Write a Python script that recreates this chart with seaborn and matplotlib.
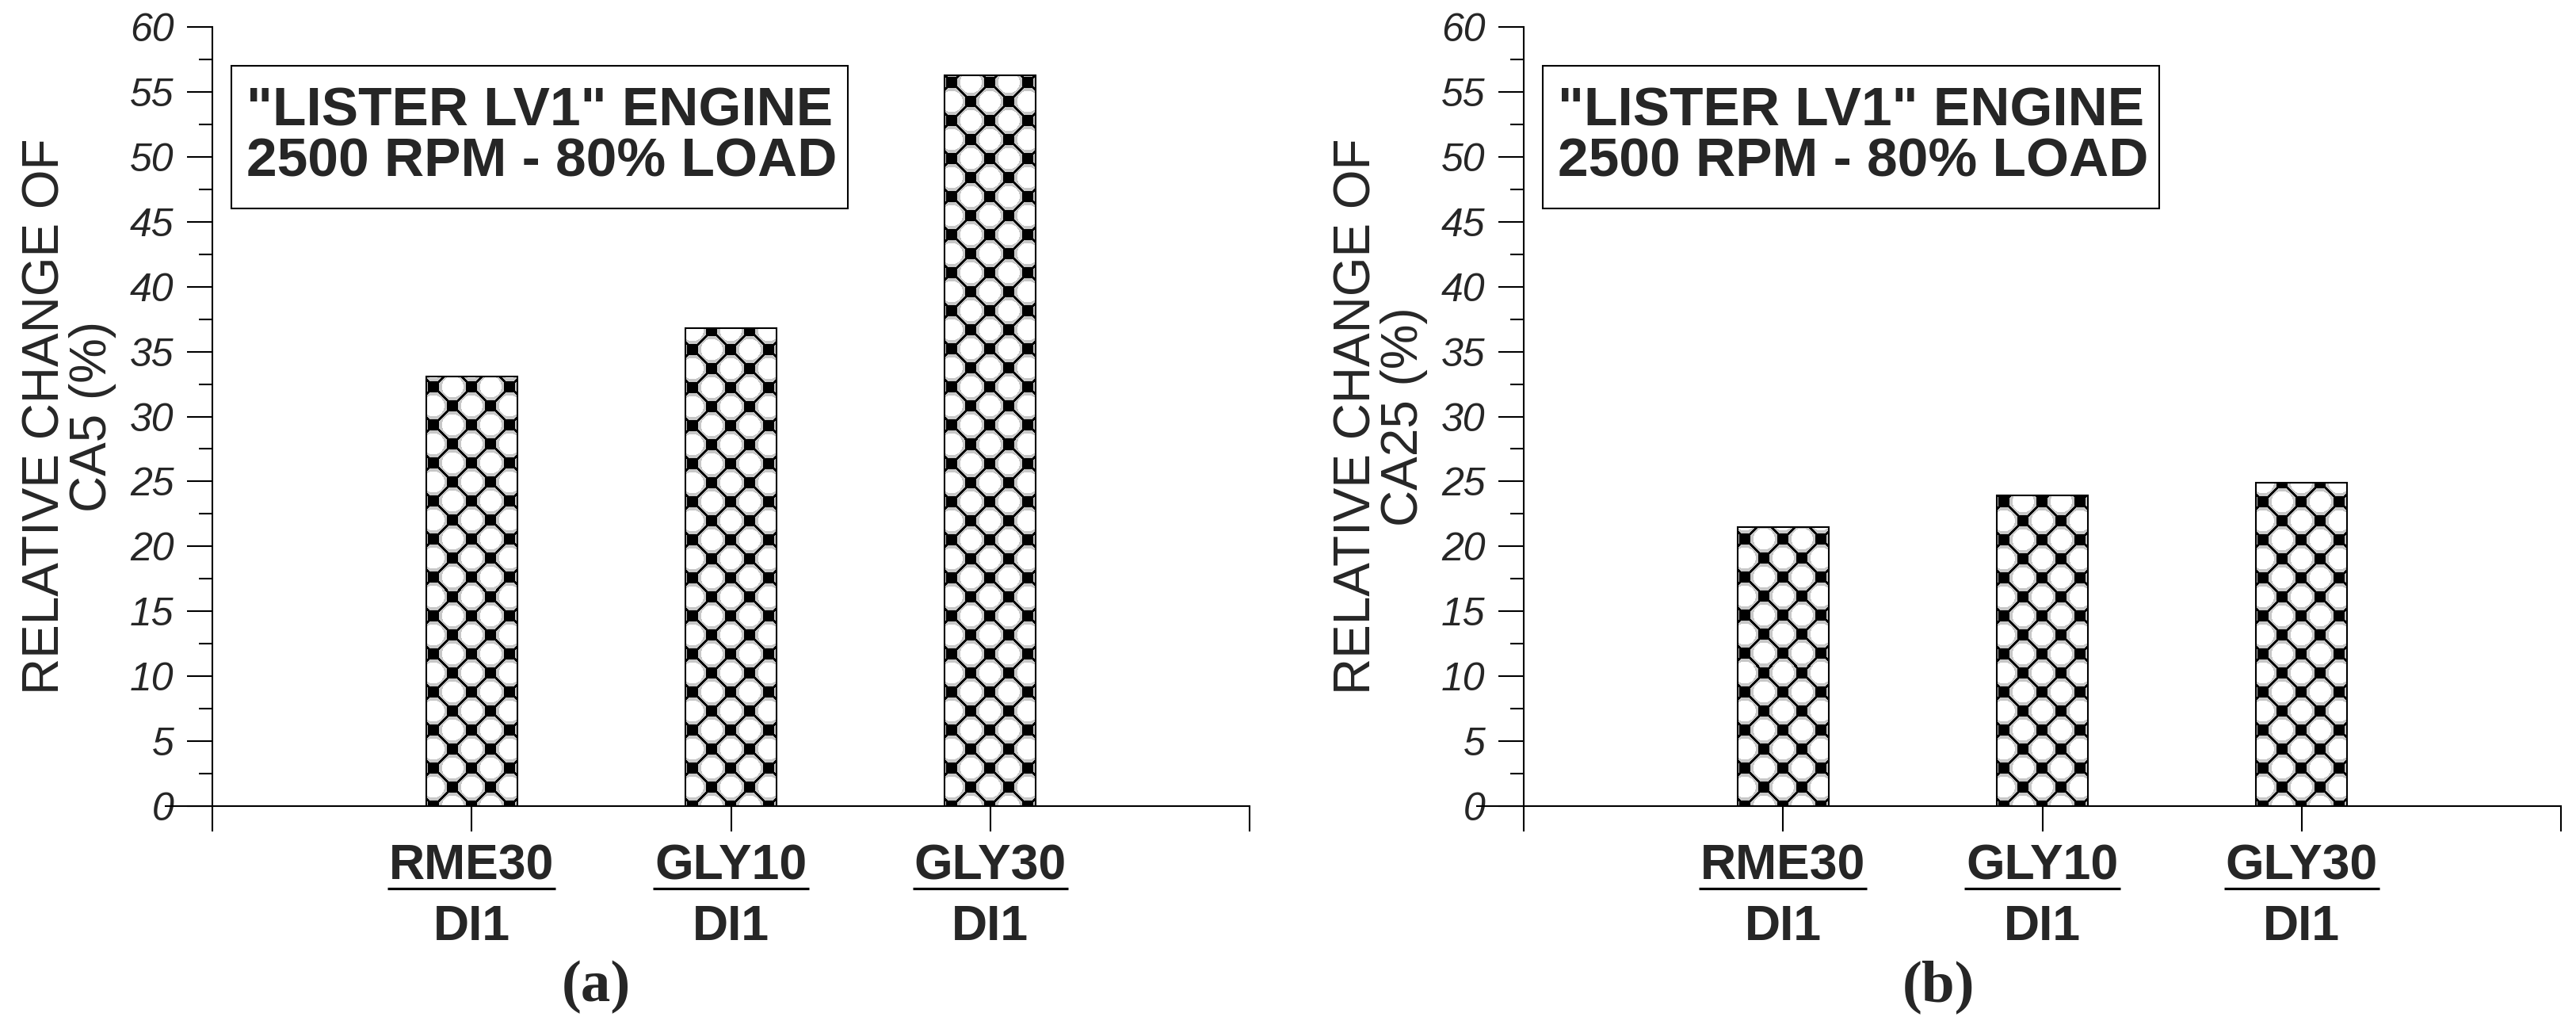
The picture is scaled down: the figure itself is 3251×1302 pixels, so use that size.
import numpy as np
import pandas as pd
import matplotlib
matplotlib.use('Agg')
import matplotlib.pyplot as plt
import matplotlib.transforms as mtransforms
from matplotlib.lines import Line2D
from matplotlib.patches import Rectangle
from matplotlib import font_manager as fm
import seaborn as sns

# ---------------- data ----------------
fuels = ['RME30', 'GLY10', 'GLY30']
base_fuel = ['DI1', 'DI1', 'DI1']
ca5_change = [33.1, 36.8, 56.3]
ca25_change = [21.5, 23.9, 24.9]
ylabels = ['RELATIVE CHANGE OF\nCA5 (%)', 'RELATIVE CHANGE OF\nCA25 (%)']
panel_tags = ['(a)', '(b)']
box_text = '"LISTER LV1" ENGINE\n2500 RPM - 80% LOAD'
y_major = list(range(0, 61, 5))
y_minor = [2.5 + 5 * k for k in range(12)]

# ---------------- style ----------------
sns.set_style('white')
plt.rcParams['font.family'] = ['Liberation Sans', 'DejaVu Sans']

names = {f.name for f in fm.fontManager.ttflist}
if 'Liberation Sans Narrow' in names:
    xlab_family, xlab_size = ['Liberation Sans Narrow', 'Liberation Sans'], 50
else:
    xlab_family, xlab_size = ['Liberation Sans', 'DejaVu Sans'], 45

DPI = 100
W, H = 3251, 1302
fig = plt.figure(figsize=(W / DPI, H / DPI), dpi=DPI)
fig.patch.set_facecolor('white')

ax_w = 1309 / W
ax_h = 983 / H
ax_b = 285 / H
lefts = [268 / W, 1923 / W]
tag_x = [752 / W, 2446 / W]
LW = 1.5
num_base_y = 193 / H
den_base_y = 116 / H
bar_y_px = 181


def pattern(w, h, phase_u):
    u = np.arange(w)[None, :] + 0.5 - phase_u
    v = np.arange(h)[:, None] + 0.5
    u, v = np.broadcast_arrays(u, v)
    s = (u + v) / 2.0
    t = (u - v) / 2.0
    ds = s - np.round(s / 24.0) * 24.0
    dt = t - np.round(t / 24.0) * 24.0
    du = ds + dt
    dv = ds - dt
    cheb = np.maximum(np.abs(du), np.abs(dv))
    dl = np.sqrt(2) * np.minimum(np.abs(ds), np.abs(dt))
    cs = s - (np.floor(s / 24.0) * 24.0 + 12.0)
    ct = t - (np.floor(t / 24.0) * 24.0 + 12.0)
    dc = np.sqrt(2 * (cs ** 2 + ct ** 2))
    img = np.full(u.shape, 0.78)
    img[dc <= 13.5] = 1.0
    img[(cheb <= 7.0) | (dl <= 1.3)] = 0.0
    return img


axes = []
numerators = []
for i, vals in enumerate([ca5_change, ca25_change]):
    ax = fig.add_axes([lefts[i], ax_b, ax_w, ax_h])
    axes.append(ax)
    df = pd.DataFrame({'fuel': fuels, 'value': vals})
    sns.barplot(data=df, x='fuel', y='value', ax=ax, color='white',
                edgecolor='black', linewidth=LW, width=0.35, saturation=1,
                errorbar=None)
    ax.set_xlim(-1, 3)
    ax.set_ylim(0, 60)
    ax.set_xlabel('')
    ax.set_facecolor('white')

    ax.set_xticks([-1, 0, 1, 2, 3])
    ax.set_xticklabels([''] * 5)
    ax.tick_params(axis='x', which='major', direction='out', bottom=True,
                   length=23, width=LW, pad=8, color='black')

    trans = mtransforms.blended_transform_factory(ax.transData, fig.transFigure)
    for k, (f, b) in enumerate(zip(fuels, base_fuel)):
        tn = ax.text(k, num_base_y, f, transform=trans, ha='center', va='baseline',
                     fontsize=xlab_size, fontweight='bold', family=xlab_family,
                     clip_on=False)
        ax.text(k, den_base_y, b, transform=trans, ha='center', va='baseline',
                fontsize=xlab_size, fontweight='bold', family=xlab_family,
                clip_on=False)
        numerators.append(tn)

    ax.set_yticks(y_major)
    ax.set_yticks(y_minor, minor=True)
    ax.set_yticklabels([str(v) for v in y_major], fontsize=36, style='italic')
    ax.tick_params(axis='y', which='major', direction='out', left=True,
                   length=23, width=LW, pad=12, color='black')
    ax.tick_params(axis='y', which='minor', direction='out', left=True,
                   length=12, width=LW, color='black')

    for side in ['top', 'right']:
        ax.spines[side].set_visible(False)
    for side in ['left', 'bottom']:
        ax.spines[side].set_color('black')
        ax.spines[side].set_linewidth(LW)
    ax.spines['bottom'].set_bounds(-1.18, 3)
    ax.spines['bottom'].set_clip_on(False)

    ax.set_ylabel(ylabels[i], fontsize=46, linespacing=1.0, labelpad=12)

    # annotation frame
    ax.add_patch(Rectangle((0.0183, 0.7670), 0.5943, 0.1831, transform=ax.transAxes,
                           facecolor='white', edgecolor='black', lw=LW, zorder=5,
                           clip_on=False))
    ax.text(0.0325, 0.8586, box_text, transform=ax.transAxes, fontsize=50,
            fontweight='bold', va='center', ha='left', linespacing=1.0,
            zorder=6)

    fig.text(tag_x[i], 0.044, panel_tags[i], fontsize=54, fontweight='bold',
             family=['Liberation Serif', 'DejaVu Serif'], ha='center', va='center')

fig.canvas.draw()
renderer = fig.canvas.get_renderer()
for tn in numerators:
    bb = tn.get_window_extent(renderer)
    fig.add_artist(Line2D([bb.x0 - 2, bb.x1 + 2], [bar_y_px, bar_y_px],
                          transform=mtransforms.IdentityTransform(),
                          color='black', lw=2.3, solid_capstyle='butt'))

for ax in axes:
    for p in list(ax.patches):
        if isinstance(p, Rectangle) and p.get_transform() == ax.transAxes:
            continue
        if p.get_zorder() >= 5:
            continue
        bb = p.get_window_extent()
        w = int(round(bb.width))
        h = int(round(bb.height))
        if w < 2 or h < 2:
            continue
        img = pattern(w, h, bb.width / 2.0)
        x0, y0 = p.get_x(), p.get_y()
        pw, ph = p.get_width(), p.get_height()
        im = ax.imshow(img, extent=(x0, x0 + pw, y0, y0 + ph), origin='lower',
                       cmap='gray', vmin=0, vmax=1, interpolation='nearest',
                       aspect='auto', zorder=p.get_zorder() + 0.1)
        im.set_clip_path(p)
        p.set_facecolor('none')
        p.set_zorder(p.get_zorder() + 0.2)
    ax.set_xlim(-1, 3)
    ax.set_ylim(0, 60)

fig.savefig('out.png', dpi=DPI, facecolor='white')
